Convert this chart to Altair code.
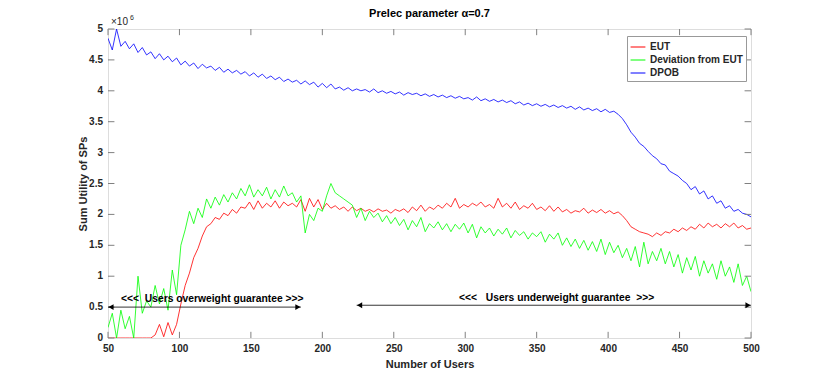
import altair as alt
import pandas as pd

# ---------------- data (values in units of 10^6) ----------------
users = list(range(50, 501, 3))

dpob = [4.85, 4.66, 5.00, 4.72, 4.80, 4.68, 4.76, 4.62, 4.70, 4.58,
        4.63, 4.52, 4.60, 4.50, 4.56, 4.47, 4.53, 4.42, 4.48, 4.40,
        4.45, 4.36, 4.43, 4.37, 4.40, 4.33, 4.38, 4.30, 4.35, 4.29,
        4.33, 4.27, 4.31, 4.24, 4.29, 4.22, 4.27, 4.20, 4.24, 4.18,
        4.22, 4.15, 4.19, 4.14, 4.17, 4.11, 4.16, 4.10, 4.14, 4.06,
        4.12, 4.05, 4.11, 4.03, 4.06, 4.01, 4.05, 4.00, 4.03, 4.00,
        4.02, 3.98, 4.03, 3.97, 4.00, 3.96, 3.99, 3.95, 3.98, 3.93,
        3.97, 3.94, 3.96, 3.92, 3.95, 3.91, 3.94, 3.90, 3.93, 3.89,
        3.92, 3.88, 3.91, 3.87, 3.89, 3.85, 3.90, 3.84, 3.87, 3.83,
        3.86, 3.82, 3.85, 3.81, 3.84, 3.79, 3.82, 3.77, 3.80, 3.76,
        3.79, 3.75, 3.78, 3.74, 3.77, 3.73, 3.76, 3.72, 3.75, 3.70,
        3.74, 3.69, 3.72, 3.68, 3.71, 3.66, 3.70, 3.65, 3.67, 3.62,
        3.55, 3.45, 3.33, 3.25, 3.15, 3.10, 3.02, 2.95, 2.90, 2.82,
        2.80, 2.70, 2.66, 2.62, 2.55, 2.50, 2.40, 2.45, 2.33, 2.38,
        2.25, 2.30, 2.18, 2.22, 2.10, 2.14, 2.05, 2.08, 2.02, 2.00,
        1.96]

eut = [0.00, 0.00, 0.00, 0.00, 0.00, 0.00, 0.00, 0.00, 0.00, 0.00,
       0.00, 0.05, 0.22, 0.02, 0.25, 0.05, 0.22, 0.55, 0.85, 1.05,
       1.30, 1.45, 1.65, 1.80, 1.85, 1.95, 1.92, 2.02, 1.98, 2.08,
       2.02, 2.12, 2.10, 2.20, 2.08, 2.22, 2.10, 2.18, 2.12, 2.22,
       2.10, 2.20, 2.14, 2.18, 2.12, 2.24, 2.05, 2.26, 2.12, 2.24,
       2.08, 2.18, 2.10, 2.14, 2.08, 2.12, 2.05, 2.12, 2.06, 2.10,
       2.05, 2.08, 2.04, 2.09, 2.05, 2.07, 2.02, 2.08, 2.05, 2.09,
       2.03, 2.12, 2.06, 2.15, 2.05, 2.12, 2.08, 2.15, 2.10, 2.18,
       2.12, 2.26, 2.10, 2.16, 2.12, 2.18, 2.14, 2.20, 2.12, 2.16,
       2.10, 2.26, 2.12, 2.18, 2.10, 2.20, 2.08, 2.14, 2.10, 2.18,
       2.08, 2.12, 2.06, 2.14, 2.05, 2.12, 2.04, 2.08, 2.02, 2.06,
       2.04, 2.10, 2.02, 2.07, 2.03, 2.08, 2.02, 2.06, 2.01, 2.04,
       1.98, 1.90, 1.80, 1.76, 1.72, 1.70, 1.68, 1.64, 1.70, 1.66,
       1.72, 1.70, 1.76, 1.72, 1.78, 1.74, 1.80, 1.76, 1.84, 1.78,
       1.86, 1.80, 1.84, 1.78, 1.85, 1.80, 1.86, 1.78, 1.82, 1.76,
       1.78]

deviation = [0.17, 0.40, 0.00, 0.45, 0.15, 0.35, 0.00, 1.00, 0.40, 0.60,
             0.50, 0.85, 0.55, 0.80, 0.45, 1.10, 0.70, 1.50, 1.75, 2.05,
             1.85, 2.10, 1.95, 2.25, 2.10, 2.28, 2.15, 2.32, 2.20, 2.35,
             2.25, 2.42, 2.30, 2.48, 2.28, 2.40, 2.30, 2.44, 2.25, 2.40,
             2.28, 2.46, 2.30, 2.35, 2.20, 2.30, 1.70, 2.00, 1.90, 2.10,
             2.05, 2.30, 2.50, 2.35, 2.30, 2.25, 2.20, 2.15, 1.95, 2.10,
             1.90, 2.05, 1.95, 2.02, 1.88, 1.98, 1.85, 1.95, 1.82, 1.92,
             1.75, 1.90, 1.80, 1.95, 1.72, 1.85, 1.78, 1.88, 1.75, 1.85,
             1.72, 1.84, 1.76, 1.86, 1.70, 1.84, 1.62, 1.80, 1.70, 1.78,
             1.65, 1.76, 1.68, 1.78, 1.62, 1.74, 1.66, 1.72, 1.60, 1.70,
             1.64, 1.72, 1.55, 1.68, 1.60, 1.70, 1.50, 1.62, 1.48, 1.60,
             1.45, 1.58, 1.42, 1.56, 1.40, 1.60, 1.35, 1.55, 1.38, 1.50,
             1.30, 1.45, 1.25, 1.48, 1.15, 1.55, 1.20, 1.40, 1.25, 1.45,
             1.20, 1.40, 1.15, 1.35, 1.05, 1.30, 1.10, 1.32, 1.00, 1.25,
             1.05, 1.20, 0.95, 1.25, 1.00, 1.15, 0.90, 1.20, 0.85, 1.00,
             0.75]

series_names = ["EUT", "Deviation from EUT", "DPOB"]
series_colors = ["#ff0000", "#00ff00", "#0000ff"]

x_ticks = list(range(50, 501, 50))
y_ticks = [0, 0.5, 1, 1.5, 2, 2.5, 3, 3.5, 4, 4.5, 5]
y_tick_labels = ["0", "0.5", "1", "1.5", "2", "2.5", "3", "3.5", "4", "4.5", "5"]

chart_title = "Prelec parameter \u03b1=0.7"

arrow_labels = ["<<<\u00a0\u00a0Users overweight guarantee >>>",
                "<<<\u00a0\u00a0\u00a0Users underweight guarantee\u00a0\u00a0>>>"]
arrow_start = [50, 224]
arrow_end = [185, 500]
arrow_level = [0.50, 0.53]
arrow_text_x = [123, 364]
arrow_text_y = [0.63, 0.65]

# ---------------- tables ----------------
rows = []
for name, vals in zip(series_names, [eut, deviation, dpob]):
    for u, v in zip(users, vals):
        rows.append({"users": u, "value": v, "series": name})
df = pd.DataFrame(rows)

FONT = "Liberation Sans"
AX = "#808080"
TXT = "#262626"

xs = alt.Scale(domain=[50, 500], nice=False, zero=False)
ys = alt.Scale(domain=[0, 5], nice=False, zero=False)

lines = alt.Chart(df).mark_line(strokeWidth=0.8, clip=True).encode(
    x=alt.X("users:Q", scale=xs,
            axis=alt.Axis(values=x_ticks, title="Number of Users", ticks=False, domain=False,
                          grid=False, labelFont=FONT, labelFontSize=10, labelFontWeight="bold",
                          labelColor=TXT, labelPadding=5, labelFlush=False, labelOverlap=False,
                          titleFont=FONT, titleFontSize=11,
                          titleFontWeight="bold", titleColor=TXT, titlePadding=5)),
    y=alt.Y("value:Q", scale=ys,
            axis=alt.Axis(title="Sum Utility of SPs", ticks=False, labels=False,
                          domain=False, grid=False,
                          titleFont=FONT, titleFontSize=11, titleFontWeight="bold",
                          titleColor=TXT, titlePadding=20)),
    color=alt.Color("series:N", scale=alt.Scale(domain=series_names, range=series_colors),
                    legend=alt.Legend(title=None, orient="none", legendX=519, legendY=7,
                                      symbolType="stroke", symbolStrokeWidth=1, symbolSize=220,
                                      labelFont=FONT, labelFontSize=10, labelFontWeight="bold",
                                      labelColor=TXT, strokeColor="#999999", fillColor="white",
                                      padding=3, rowPadding=0, labelOffset=4)),
    detail="series:N",
)


def X(f):
    return alt.X(f, scale=xs)


def Y(f):
    return alt.Y(f, scale=ys)


# inward tick marks on all four sides (lengths in data units)
tx = pd.DataFrame({"x": x_ticks, "y0": 0.0, "y1": 0.1, "y2": 5.0, "y3": 4.9})
ty = pd.DataFrame({"y": y_ticks, "lab": y_tick_labels,
                   "x0": 50.0, "x1": 54.5, "x2": 500.0, "x3": 495.5})
tick_color = AX
bottom_ticks = alt.Chart(tx).mark_rule(color=tick_color, strokeWidth=1).encode(
    x=X("x:Q"), y=Y("y0:Q"), y2="y1:Q")
top_ticks = alt.Chart(tx).mark_rule(color=tick_color, strokeWidth=1).encode(
    x=X("x:Q"), y=Y("y2:Q"), y2="y3:Q")
left_ticks = alt.Chart(ty).mark_rule(color=tick_color, strokeWidth=1).encode(
    y=Y("y:Q"), x=X("x0:Q"), x2="x1:Q")
right_ticks = alt.Chart(ty).mark_rule(color=tick_color, strokeWidth=1).encode(
    y=Y("y:Q"), x=X("x2:Q"), x2="x3:Q")
y_labels = alt.Chart(ty).mark_text(font=FONT, fontSize=10, fontWeight="bold", color=TXT,
                                   align="right", baseline="middle", dx=-5).encode(
    y=Y("y:Q"), x=X("x0:Q"), text="lab:N")

# arrows and annotations
adf = pd.DataFrame({"x1": arrow_start, "x2": arrow_end, "y": arrow_level,
                    "tx": arrow_text_x, "ty": arrow_text_y, "label": arrow_labels})
arrow_lines = alt.Chart(adf).mark_rule(color="black", strokeWidth=0.8).encode(
    x=X("x1:Q"), x2="x2:Q", y=Y("y:Q"))
left_heads = alt.Chart(adf).mark_point(shape="triangle-left", filled=True, color="black",
                                       size=35, opacity=1, xOffset=3).encode(
    x=X("x1:Q"), y=Y("y:Q"))
right_heads = alt.Chart(adf).mark_point(shape="triangle-right", filled=True, color="black",
                                        size=35, opacity=1, xOffset=-3).encode(
    x=X("x2:Q"), y=Y("y:Q"))
arrow_text = alt.Chart(adf).mark_text(font=FONT, fontSize=10.3, fontWeight="bold",
                                      color="black", align="center", baseline="middle").encode(
    x=X("tx:Q"), y=Y("ty:Q"), text="label:N")

exp_df = pd.DataFrame({"x": [50], "y": [5], "mid": [275], "title": [chart_title]})
exp_base = alt.Chart(exp_df).mark_text(font=FONT, fontSize=10, color=TXT, align="left",
                                       baseline="alphabetic", dx=3, dy=-4).encode(
    x=X("x:Q"), y=Y("y:Q"), text=alt.value("\u00d710"))
exp_sup = alt.Chart(exp_df).mark_text(font=FONT, fontSize=7, color=TXT, align="left",
                                      baseline="alphabetic", dx=22, dy=-9).encode(
    x=X("x:Q"), y=Y("y:Q"), text=alt.value("6"))
title_text = alt.Chart(exp_df).mark_text(font=FONT, fontSize=11, fontWeight="bold",
                                         color="black", align="center",
                                         baseline="alphabetic", dy=-12).encode(
    x=X("mid:Q"), y=Y("y:Q"), text="title:N")

chart = alt.layer(
    lines, bottom_ticks, top_ticks, left_ticks, right_ticks, y_labels,
    arrow_lines, left_heads, right_heads, arrow_text, exp_base, exp_sup, title_text
).properties(
    width=643, height=309,
    autosize=alt.AutoSizeParams(type="none"),
    padding={"left": 100, "top": 21, "right": 71, "bottom": 34},
).configure_view(stroke=AX, strokeWidth=1).configure_axis(
    labelOverlap=False, labelFlush=False
).configure(background="white")

chart.save("out.html", embed_options={"renderer": "svg", "actions": False})
